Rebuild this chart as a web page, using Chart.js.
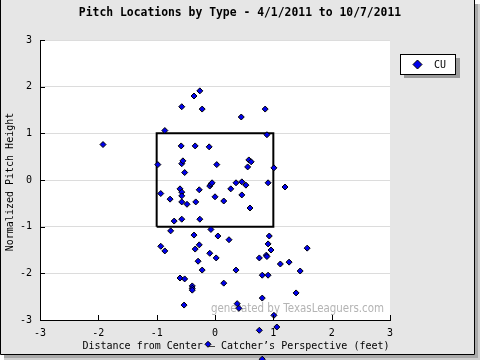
<!DOCTYPE html>
<html>
<head>
<meta charset="utf-8">
<script src="https://cdn.jsdelivr.net/npm/chart.js@4/dist/chart.umd.min.js"></script>
<style>
    html, body { margin: 0; padding: 0; background: #ffffff; }
    #wrap { width: 480px; height: 360px; }
</style>
</head>
<body>
<div id="wrap"><canvas id="myChart" width="480" height="360"></canvas></div>
<script>
// Datos de los lanzamientos (CU)
const cuX = [-1.92, -0.86, -0.57, -0.36, -0.26, -0.22, 0.45, 0.86, 0.89, -0.58,
    -0.34, -0.10, -0.98, -0.57, -0.55, -0.52, 0.03, 0.58, 0.62, 0.56,
    1.01, -0.93, -0.77, -0.60, -0.57, -0.57, -0.57, -0.48, -0.33, -0.27,
    -0.09, -0.07, -0.05, 0.00, 0.15, 0.27, 0.36, 0.46, 0.53, 0.46,
    0.60, 0.91, 1.20, -0.70, -0.57, -0.26, -0.76, -0.07, -0.36, 0.05,
    0.24, 0.93, 0.91, 0.96, 1.58, -0.93, -0.86, -0.34, -0.27, -0.09,
    0.02, -0.29, -0.22, 0.76, 0.88, 0.89, 1.12, 1.27, 1.46, 0.36,
    -0.60, -0.52, 0.15, -0.39, -0.39, -0.39, 0.81, 0.91, 1.39, 0.81,
    -0.53, 0.38, 0.41, 1.01, 1.06, 0.76, -0.12, 0.81];
const cuY = [0.76, 1.06, 1.57, 1.80, 1.91, 1.52, 1.35, 1.52, 0.97, 0.73,
    0.73, 0.71, 0.33, 0.35, 0.41, 0.16, 0.33, 0.43, 0.39, 0.28,
    0.26, -0.29, -0.41, -0.19, -0.26, -0.34, -0.47, -0.52, -0.47, -0.21,
    -0.13, -0.09, -0.06, -0.36, -0.45, -0.19, -0.06, -0.04, -0.11, -0.32,
    -0.60, -0.06, -0.15, -0.88, -0.84, -0.84, -1.09, -1.06, -1.18, -1.20,
    -1.28, -1.20, -1.37, -1.50, -1.46, -1.42, -1.52, -1.48, -1.39, -1.57,
    -1.67, -1.74, -1.93, -1.67, -1.61, -1.64, -1.80, -1.76, -1.95, -1.93,
    -2.10, -2.12, -2.21, -2.27, -2.32, -2.36, -2.04, -2.04, -2.42, -2.53,
    -2.68, -2.65, -2.75, -2.90, -3.15, -3.22, -3.52, -3.84];

// Zona de strike
const zonaX = [-1, 1, 1, -1, -1];
const zonaY = [-1, -1, 1, 1, -1];

// Marcas de los ejes
const ticksX = [-3, -2, -1, 0, 1, 2, 3];
const ticksY = [-3, -2, -1, 0, 1, 2, 3];

const titulo = 'Pitch Locations by Type - 4/1/2011 to 10/7/2011';
const tituloX = 'Distance from Center \u2013 Catcher\u2019s Perspective (feet)';
const tituloY = 'Normalized Pitch Height';
const leyenda = 'CU';
const marcaAgua = 'generated by TexasLeaguers.com';

const MONO = '"DejaVu Sans Mono", "Liberation Mono", monospace';

const puntos = cuX.map((x, i) => ({ x: x, y: cuY[i] }));
const zona = zonaX.map((x, i) => ({ x: x, y: zonaY[i] }));

const diamante = (ctx, x, y, r) => {
    ctx.beginPath();
    ctx.moveTo(x, y - r);
    ctx.lineTo(x + r, y);
    ctx.lineTo(x, y + r);
    ctx.lineTo(x - r, y);
    ctx.closePath();
    ctx.fillStyle = '#0000ee';
    ctx.fill();
    ctx.strokeStyle = '#000000';
    ctx.lineWidth = 1;
    ctx.stroke();
};

// Fondo, marco y area blanca
const fondo = {
    id: 'fondo',
    beforeDraw(chart) {
        const ctx = chart.ctx;
        const a = chart.chartArea;
        ctx.save();
        ctx.fillStyle = '#ffffff';
        ctx.fillRect(0, 0, 480, 360);
        // sombra
        ctx.fillStyle = '#a8a8a8';
        ctx.fillRect(475, 4, 5, 356);
        ctx.fillRect(4, 355, 476, 5);
        ctx.fillStyle = '#cfcfcf';
        ctx.fillRect(478, 4, 2, 356);
        ctx.fillRect(4, 358, 476, 2);
        ctx.fillStyle = '#e6e6e6';
        ctx.fillRect(0, 0, 474, 354);
        ctx.strokeStyle = '#000000';
        ctx.lineWidth = 1;
        ctx.beginPath();
        ctx.moveTo(0.5, 0);
        ctx.lineTo(0.5, 354.5);
        ctx.lineTo(474.5, 354.5);
        ctx.lineTo(474.5, 0);
        ctx.stroke();
        ctx.fillStyle = '#ffffff';
        ctx.fillRect(a.left, a.top, a.right - a.left, a.bottom - a.top);
        ctx.restore();
    },
    beforeDatasetsDraw(chart) {
        const ctx = chart.ctx;
        ctx.save();
        ctx.fillStyle = '#b4b4b4';
        ctx.font = '13px "DejaVu Sans", Verdana, sans-serif';
        ctx.textAlign = 'left';
        ctx.textBaseline = 'middle';
        ctx.fillText(marcaAgua, 211, 309, 173);
        ctx.restore();
    },
    afterDraw(chart) {
        const ctx = chart.ctx;
        const a = chart.chartArea;
        const sx = chart.scales.x;
        const sy = chart.scales.y;
        ctx.save();
        // marcas hacia adentro
        ctx.strokeStyle = '#000000';
        ctx.lineWidth = 1;
        ctx.beginPath();
        ticksX.forEach(v => {
            const px = Math.round(sx.getPixelForValue(v)) + 0.5;
            ctx.moveTo(px, a.bottom);
            ctx.lineTo(px, a.bottom - 5);
        });
        ticksY.forEach(v => {
            const py = Math.round(sy.getPixelForValue(v)) + 0.5;
            ctx.moveTo(a.left, py);
            ctx.lineTo(a.left + 5, py);
        });
        ctx.stroke();

        // titulos
        ctx.fillStyle = '#000000';
        ctx.textAlign = 'center';
        ctx.textBaseline = 'middle';
        ctx.font = 'bold 11.4px ' + MONO;
        ctx.fillText(titulo, 240, 13);
        ctx.font = '10px ' + MONO;
        ctx.fillText(tituloX, 236, 346);
        ctx.save();
        ctx.translate(10, 182);
        ctx.rotate(-Math.PI / 2);
        ctx.fillText(tituloY, 0, 0);
        ctx.restore();

        // leyenda
        ctx.fillStyle = '#9a9a9a';
        ctx.fillRect(404, 58, 56, 20);
        ctx.fillStyle = '#ffffff';
        ctx.fillRect(400, 54, 56, 21);
        ctx.strokeStyle = '#000000';
        ctx.strokeRect(400.5, 54.5, 55, 20);
        diamante(ctx, 417.5, 64.5, 4.5);
        ctx.fillStyle = '#000000';
        ctx.textAlign = 'left';
        ctx.font = '10px ' + MONO;
        ctx.fillText(leyenda, 434, 65);
        ctx.restore();

        // puntos que caen fuera del area (debajo de -3), encima de los textos
        const todo = { left: 0, top: 0, right: 480, bottom: 360 };
        chart.getDatasetMeta(1).data.forEach(el => {
            if (el.y > a.bottom) el.draw(ctx, todo);
        });
    }
};

new Chart(document.getElementById('myChart').getContext('2d'), {
    type: 'scatter',
    data: {
        datasets: [{
            label: 'zona',
            data: zona,
            showLine: true,
            borderColor: '#000000',
            borderWidth: 2,
            pointRadius: 0,
            fill: false,
            order: 2,
            clip: false
        }, {
            label: leyenda,
            data: puntos,
            pointStyle: 'rectRot',
            pointRadius: 3,
            pointHoverRadius: 3,
            backgroundColor: '#0000ee',
            borderColor: '#000000',
            borderWidth: 1,
            order: 1,
            clip: false
        }]
    },
    options: {
        responsive: false,
        animation: false,
        devicePixelRatio: 1,
        events: [],
        layout: { padding: { left: 0, top: 40, right: 90, bottom: 0 } },
        plugins: {
            legend: { display: false },
            title: { display: false },
            tooltip: { enabled: false }
        },
        scales: {
            x: {
                type: 'linear',
                min: -3,
                max: 3,
                afterFit: s => { s.height = 40; },
                afterBuildTicks: s => { s.ticks = ticksX.map(v => ({ value: v })); },
                grid: { display: false, drawTicks: false },
                border: { display: true, color: '#000000', width: 1 },
                ticks: {
                    color: '#000000',
                    padding: 7,
                    maxRotation: 0,
                    font: { family: MONO, size: 10 }
                }
            },
            y: {
                type: 'linear',
                min: -3,
                max: 3,
                afterFit: s => { s.width = 40; },
                afterBuildTicks: s => { s.ticks = ticksY.map(v => ({ value: v })); },
                grid: { color: '#dcdcdc', drawTicks: false },
                border: { display: true, color: '#000000', width: 1 },
                ticks: {
                    color: '#000000',
                    padding: 8,
                    font: { family: MONO, size: 10 }
                }
            }
        }
    },
    plugins: [fondo]
});
</script>
</body>
</html>
